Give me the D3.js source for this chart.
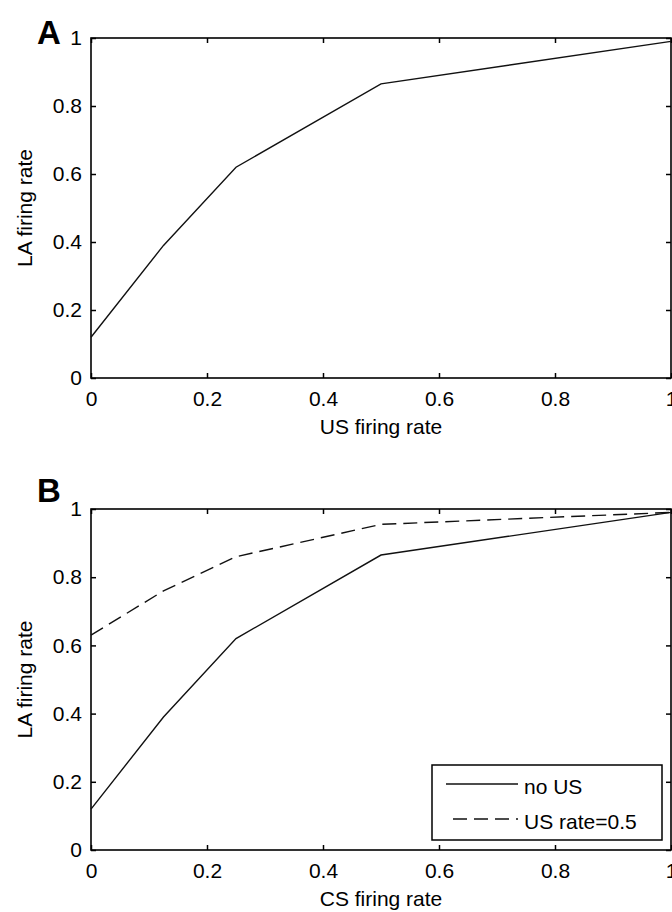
<!DOCTYPE html>
<html>
<head>
<meta charset="utf-8">
<script src="https://cdn.jsdelivr.net/npm/d3@7"></script>
<style>
  html, body { margin: 0; padding: 0; background: #fff; }
  svg { display: block; }
  text { font-family: "Liberation Sans", Arial, sans-serif; fill: #000; }
</style>
</head>
<body>
<svg id="chart" width="672" height="912"></svg>
<script>
// ---- data ----
const rates = [0, 0.125, 0.25, 0.5, 1];
const laNoUS = [0.12, 0.39, 0.62, 0.865, 0.99];
const laUS05 = [0.63, 0.76, 0.86, 0.955, 0.99];
const xTicks = [0, 0.2, 0.4, 0.6, 0.8, 1];
const yTicks = [0, 0.2, 0.4, 0.6, 0.8, 1];
const panelLetters = ["A", "B"];
const xTitles = ["US firing rate", "CS firing rate"];
const yTitle = "LA firing rate";
const legendLabels = ["no US", "US rate=0.5"];

const svg = d3.select("#chart");
const FONT = 21;

const panels = [
  { top: 38, bottom: 378, series: [{ v: laNoUS, dash: null }] },
  { top: 509, bottom: 850, series: [{ v: laNoUS, dash: null }, { v: laUS05, dash: "14,7" }], legend: true }
];
const left = 91, right = 671;

panels.forEach((p, i) => {
  const x = d3.scaleLinear().domain([0, 1]).range([left, right]);
  const y = d3.scaleLinear().domain([0, 1]).range([p.bottom, p.top]);
  const g = svg.append("g");

  // bottom axis
  const gb = g.append("g").attr("transform", `translate(0,${p.bottom})`)
    .call(d3.axisBottom(x).tickValues(xTicks).tickFormat(d3.format("")).tickSizeInner(-5).tickSizeOuter(0).tickPadding(13));
  // left axis
  const gl = g.append("g").attr("transform", `translate(${left},0)`)
    .call(d3.axisLeft(y).tickValues(yTicks).tickFormat(d3.format("")).tickSizeInner(-5).tickSizeOuter(0).tickPadding(9));
  // top axis
  const gt = g.append("g").attr("transform", `translate(0,${p.top})`)
    .call(d3.axisTop(x).tickValues(xTicks).tickFormat("").tickSizeInner(-5).tickSizeOuter(0));
  // right axis
  const gr = g.append("g").attr("transform", `translate(${right},0)`)
    .call(d3.axisRight(y).tickValues(yTicks).tickFormat("").tickSizeInner(-5).tickSizeOuter(0));

  [gb, gl, gt, gr].forEach(a => {
    a.select(".domain").remove();
    a.selectAll(".tick line").attr("stroke", "#000").attr("stroke-width", 1.5);
    a.selectAll(".tick text").attr("font-size", FONT).attr("font-family", "Liberation Sans, Arial, sans-serif").attr("fill", "#000");
  });

  // box
  g.append("rect")
    .attr("x", left).attr("y", p.top)
    .attr("width", right - left).attr("height", p.bottom - p.top)
    .attr("fill", "none").attr("stroke", "#000").attr("stroke-width", 1.6);

  // lines
  const line = d3.line().x((d, k) => x(rates[k])).y(d => y(d));
  p.series.forEach(s => {
    g.append("path").datum(s.v)
      .attr("d", line)
      .attr("fill", "none").attr("stroke", "#111").attr("stroke-width", 1.4)
      .attr("stroke-dasharray", s.dash);
  });

  // titles
  g.append("text").attr("x", (left + right) / 2).attr("y", p.bottom + 56)
    .attr("text-anchor", "middle").attr("font-size", FONT).text(xTitles[i]);
  g.append("text")
    .attr("transform", `translate(32,${(p.top + p.bottom) / 2}) rotate(-90)`)
    .attr("text-anchor", "middle").attr("font-size", FONT).text(yTitle);

  // panel letter
  g.append("text").attr("x", 49).attr("y", p.top + (i === 0 ? 6 : -7))
    .attr("text-anchor", "middle").attr("font-size", 33).attr("font-weight", "bold")
    .text(panelLetters[i]);

  if (p.legend) {
    const lx = 432, ly = 765, lw = 230, lh = 75;
    const lg = g.append("g");
    lg.append("rect").attr("x", lx).attr("y", ly).attr("width", lw).attr("height", lh)
      .attr("fill", "#fff").attr("stroke", "#000").attr("stroke-width", 1.5);
    const rows = [{ y: 784, dash: null, x0: 446 }, { y: 819, dash: "14,7", x0: 453 }];
    rows.forEach((r, k) => {
      lg.append("line").attr("x1", r.x0).attr("x2", 518).attr("y1", r.y).attr("y2", r.y)
        .attr("stroke", "#111").attr("stroke-width", 1.4).attr("stroke-dasharray", r.dash);
      lg.append("text").attr("x", 524).attr("y", r.y + 10).attr("font-size", FONT).text(legendLabels[k]);
    });
  }
});
</script>
</body>
</html>
